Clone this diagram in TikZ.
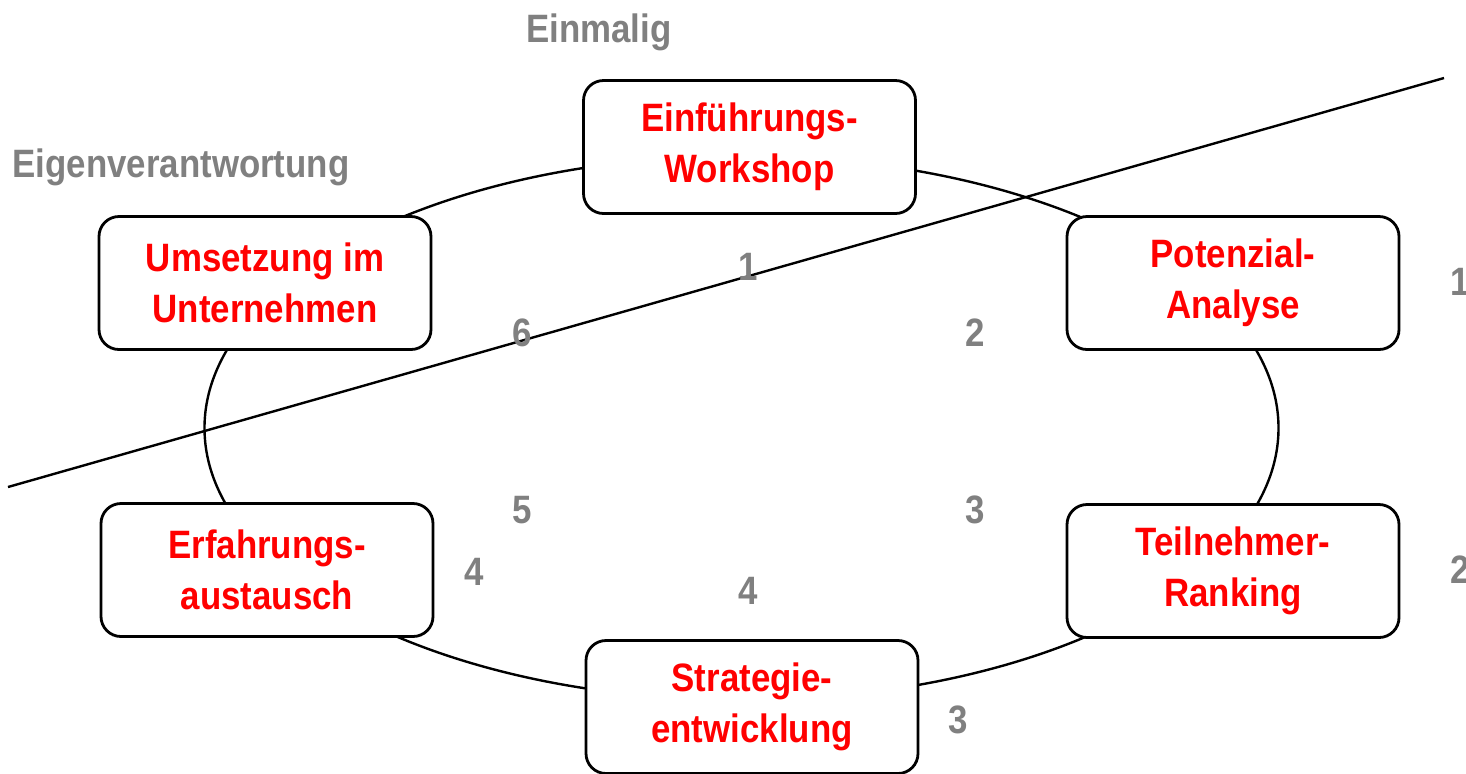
\documentclass[tikz,border=0pt]{standalone}
\usepackage{fontspec}
\setmainfont{Liberation Sans}[FakeStretch=0.88]
\definecolor{redtxt}{RGB}{255,0,0}
\definecolor{graytxt}{RGB}{128,128,128}
\begin{document}
\begin{tikzpicture}[x=0.5pt,y=-0.5pt,
  stepbox/.style={draw=black,line width=1.4pt,fill=white,rounded corners=10pt,
    minimum width=166pt,minimum height=66.5pt,inner sep=0pt,align=center,
    text=redtxt,font=\fontsize{19.8}{25.5}\selectfont\bfseries},
  lbl/.style={text=graytxt,font=\fontsize{19.8}{24}\selectfont\bfseries,inner sep=0pt}]
\useasboundingbox (0,0) rectangle (1466,773);
% cycle
\draw[line width=1.2pt] (741.5,428) ellipse [x radius=537, y radius=272];
% boxes
\node[stepbox] (ws) at (749.5,147) {Einführungs-\\Workshop};
\node[stepbox] (pa) at (1233,283) {Potenzial-\\Analyse};
\node[stepbox] (tr) at (1233,571) {Teilnehmer-\\Ranking};
\node[stepbox] (se) at (752,707) {Strategie-\\entwicklung};
\node[stepbox] (ea) at (267,570) {Erfahrungs-\\austausch};
\node[stepbox] (ui) at (265,283) {Umsetzung im\\Unternehmen};
% dividing line
\coordinate (l1) at (8,487);
\coordinate (l2) at (1444,78);
\draw[line width=1.2pt] (l1) -- (l2);
% labels
\node[lbl] (einm) at (599,32) {Einmalig};
\node[lbl] (eig) at (181,167) {Eigenverantwortung};
\node[lbl] (n1) at (748,267) {1};
\node[lbl] (n2) at (975,333) {2};
\node[lbl] (n3) at (975,510) {3};
\node[lbl] (n4) at (748,591) {4};
\node[lbl] (n5) at (522,510) {5};
\node[lbl] (n6) at (522,333) {6};
\node[lbl] (r1) at (1460,282) {1};
\node[lbl] (r2) at (1460,570) {2};
\node[lbl] (r3) at (958,720) {3};
\node[lbl] (r4) at (474,572) {4};
\end{tikzpicture}
\end{document}
